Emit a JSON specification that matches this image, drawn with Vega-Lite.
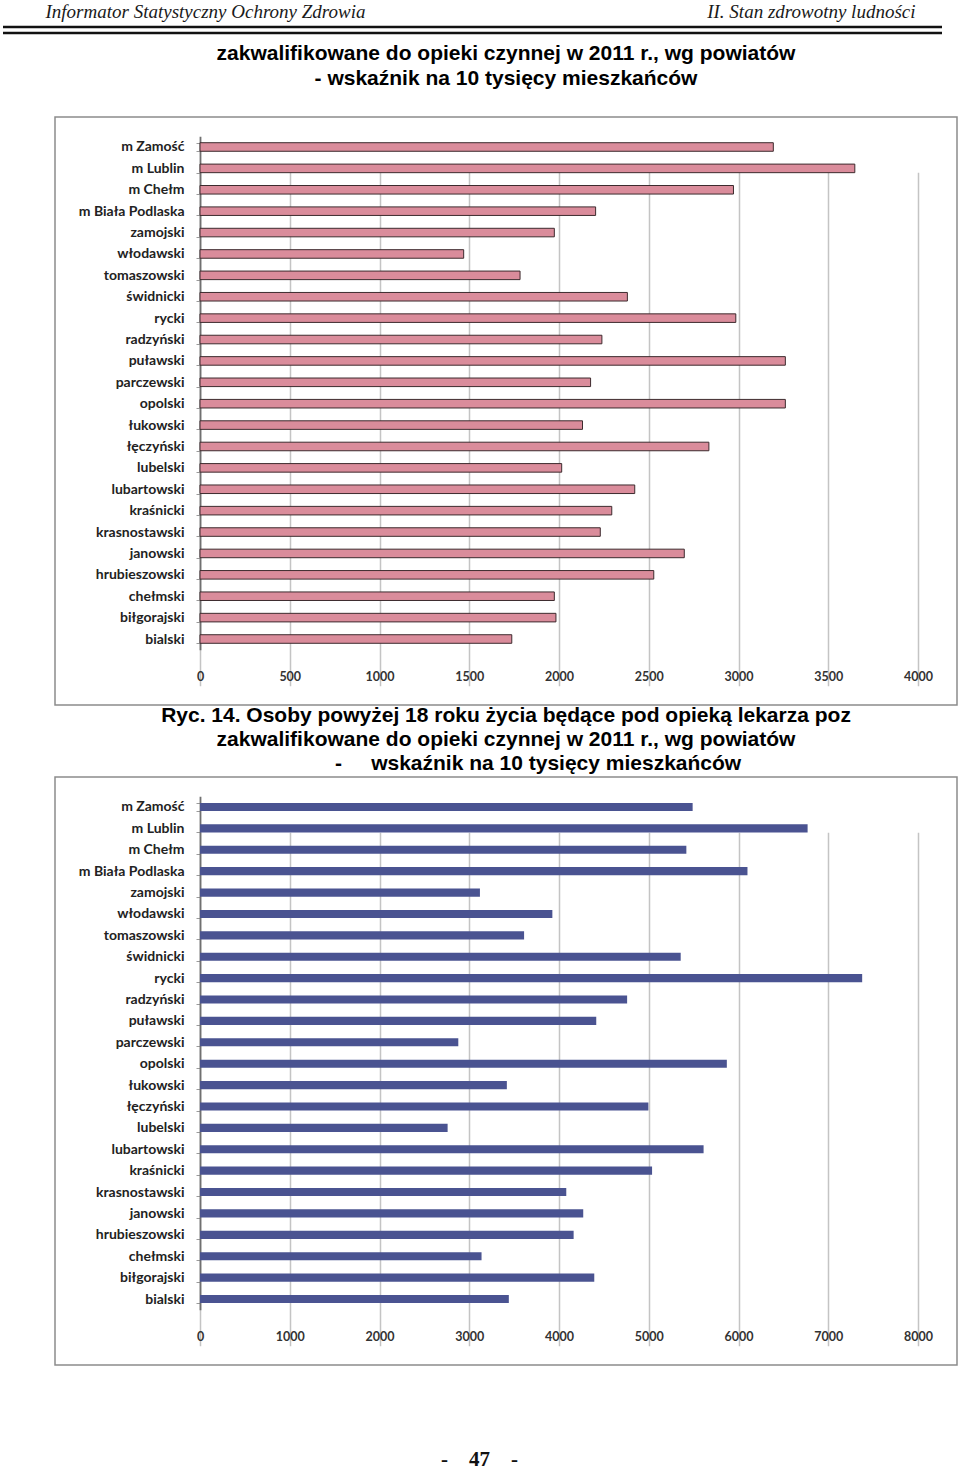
{
  "$schema": "https://vega.github.io/schema/vega-lite/v6.json",
  "padding": {"left": 1, "top": 2, "right": 0, "bottom": 0},
  "background": "white",
  "bounds": "flush",
  "spacing": 72,
  "config": {"font": "Liberation Sans", "view": {"stroke": null}},
  "datasets": {
    "wyk13": [
      {"powiat": "m Zamość", "wskaznik": 3194},
      {"powiat": "m Lublin", "wskaznik": 3648},
      {"powiat": "m Chełm", "wskaznik": 2972},
      {"powiat": "m Biała Podlaska", "wskaznik": 2204},
      {"powiat": "zamojski", "wskaznik": 1974},
      {"powiat": "włodawski", "wskaznik": 1469},
      {"powiat": "tomaszowski", "wskaznik": 1783},
      {"powiat": "świdnicki", "wskaznik": 2381},
      {"powiat": "rycki", "wskaznik": 2985},
      {"powiat": "radzyński", "wskaznik": 2239},
      {"powiat": "puławski", "wskaznik": 3261},
      {"powiat": "parczewski", "wskaznik": 2176},
      {"powiat": "opolski", "wskaznik": 3261},
      {"powiat": "łukowski", "wskaznik": 2131},
      {"powiat": "łęczyński", "wskaznik": 2835},
      {"powiat": "lubelski", "wskaznik": 2015},
      {"powiat": "lubartowski", "wskaznik": 2422},
      {"powiat": "kraśnicki", "wskaznik": 2294},
      {"powiat": "krasnostawski", "wskaznik": 2230},
      {"powiat": "janowski", "wskaznik": 2698},
      {"powiat": "hrubieszowski", "wskaznik": 2528},
      {"powiat": "chełmski", "wskaznik": 1974},
      {"powiat": "biłgorajski", "wskaznik": 1983},
      {"powiat": "bialski", "wskaznik": 1737}
    ],
    "wyk14": [
      {"powiat": "m Zamość", "wskaznik": 5489},
      {"powiat": "m Lublin", "wskaznik": 6770},
      {"powiat": "m Chełm", "wskaznik": 5419},
      {"powiat": "m Biała Podlaska", "wskaznik": 6100},
      {"powiat": "zamojski", "wskaznik": 3119},
      {"powiat": "włodawski", "wskaznik": 3926},
      {"powiat": "tomaszowski", "wskaznik": 3611},
      {"powiat": "świdnicki", "wskaznik": 5356},
      {"powiat": "rycki", "wskaznik": 7378},
      {"powiat": "radzyński", "wskaznik": 4759},
      {"powiat": "puławski", "wskaznik": 4415},
      {"powiat": "parczewski", "wskaznik": 2878},
      {"powiat": "opolski", "wskaznik": 5870},
      {"powiat": "łukowski", "wskaznik": 3419},
      {"powiat": "łęczyński", "wskaznik": 4996},
      {"powiat": "lubelski", "wskaznik": 2759},
      {"powiat": "lubartowski", "wskaznik": 5611},
      {"powiat": "kraśnicki", "wskaznik": 5037},
      {"powiat": "krasnostawski", "wskaznik": 4081},
      {"powiat": "janowski", "wskaznik": 4270},
      {"powiat": "hrubieszowski", "wskaznik": 4163},
      {"powiat": "chełmski", "wskaznik": 3137},
      {"powiat": "biłgorajski", "wskaznik": 4393},
      {"powiat": "bialski", "wskaznik": 3441}
    ]
  },
  "vconcat": [
    {
      "width": 902,
      "height": 18,
      "data": {"values": [{"linia": "górna"}, {"linia": "dolna"}]},
      "mark": {"type": "rule", "color": "#111111", "strokeWidth": 2.5},
      "encoding": {
        "y": {
          "field": "linia", "type": "nominal", "sort": null,
          "scale": {"type": "point", "padding": 0, "range": [0, 6]},
          "axis": {
            "orient": "left", "domain": false, "ticks": false, "labels": false, "grid": false,
            "title": "Informator Statystyczny Ochrony Zdrowia",
            "titleAngle": 0, "titleX": -10, "titleY": -16, "titleAlign": "left", "titleBaseline": "middle",
            "titleFont": "Liberation Serif", "titleFontStyle": "italic", "titleFontWeight": "normal",
            "titleFontSize": 19, "titleColor": "#1a1a1a"
          }
        },
        "x": {
          "datum": 0, "type": "quantitative",
          "scale": {"domain": [0, 1], "range": [-52, 887]},
          "axis": {
            "orient": "top", "domain": false, "ticks": false, "labels": false, "grid": false,
            "title": "II. Stan zdrowotny ludności",
            "titleX": 860, "titleY": -16, "titleAlign": "right", "titleBaseline": "middle",
            "titleFont": "Liberation Serif", "titleFontStyle": "italic", "titleFontWeight": "normal",
            "titleFontSize": 19, "titleColor": "#1a1a1a"
          }
        },
        "x2": {"datum": 1}
      }
    },
    {
      "width": 902,
      "height": 588,
      "view": {"stroke": "#8c8c8c", "strokeWidth": 1.5},
      "title": {
        "text": ["zakwalifikowane do opieki czynnej w 2011 r., wg powiatów", "- wskaźnik na 10 tysięcy mieszkańców"],
        "anchor": "middle", "offset": 21, "font": "Liberation Sans", "fontSize": 21,
        "fontWeight": "bold", "lineHeight": 25, "color": "#000000"
      },
      "data": {"name": "wyk13"},
      "mark": {"type": "bar", "color": "#da8c9b", "stroke": "#3d2b2e", "strokeWidth": 1},
      "encoding": {
        "y": {
          "field": "powiat", "type": "nominal", "sort": null,
          "scale": {"range": [19.3, 532.7], "paddingInner": 0.6, "paddingOuter": 0.3},
          "axis": {
            "orient": "left", "offset": -145, "title": null, "grid": false,
            "domain": true, "domainColor": "#707070", "domainWidth": 1.8,
            "ticks": true, "tickBand": "extent", "tickSize": 4, "tickColor": "#9a9a9a",
            "labelPadding": 12, "labelFont": "Lato", "labelFontWeight": "bold",
            "labelFontSize": 14, "labelColor": "#222222"
          }
        },
        "x": {
          "field": "wskaznik", "type": "quantitative",
          "scale": {"domain": [0, 4000], "range": [145, 863], "nice": false},
          "axis": {
            "orient": "bottom", "offset": -40, "title": null, "domain": false, "ticks": false,
            "labelPadding": 5, "values": [0, 500, 1000, 1500, 2000, 2500, 3000, 3500, 4000],
            "format": "d", "labelFlush": false,
            "grid": true, "gridColor": "#c4c4c4", "gridWidth": 1.5,
            "labelFont": "Lato", "labelFontSize": 12.5, "labelFontWeight": "bold", "labelColor": "#333333"
          }
        }
      }
    },
    {
      "width": 902,
      "height": 588,
      "view": {"stroke": "#8c8c8c", "strokeWidth": 1.5},
      "title": {
        "text": [
          "Ryc. 14. Osoby powyżej 18 roku życia będące pod opieką lekarza poz",
          "zakwalifikowane do opieki czynnej w 2011 r., wg powiatów",
          "\u200b\u00a0\u00a0\u00a0\u00a0\u00a0\u00a0\u00a0\u00a0\u00a0\u00a0\u00a0-\u00a0\u00a0\u00a0\u00a0\u00a0wskaźnik na 10 tysięcy mieszkańców"
        ],
        "anchor": "middle", "offset": -4, "font": "Liberation Sans", "fontSize": 21,
        "fontWeight": "bold", "lineHeight": 24, "color": "#000000"
      },
      "data": {"name": "wyk14"},
      "mark": {"type": "bar", "color": "#4a5391"},
      "encoding": {
        "y": {
          "field": "powiat", "type": "nominal", "sort": null,
          "scale": {"range": [19.3, 532.7], "paddingInner": 0.62, "paddingOuter": 0.31},
          "axis": {
            "orient": "left", "offset": -145, "title": null, "grid": false,
            "domain": true, "domainColor": "#707070", "domainWidth": 1.8,
            "ticks": true, "tickBand": "extent", "tickSize": 4, "tickColor": "#9a9a9a",
            "labelPadding": 12, "labelFont": "Lato", "labelFontWeight": "bold",
            "labelFontSize": 14, "labelColor": "#222222"
          }
        },
        "x": {
          "field": "wskaznik", "type": "quantitative",
          "scale": {"domain": [0, 8000], "range": [145, 863], "nice": false},
          "axis": {
            "orient": "bottom", "offset": -40, "domain": false, "ticks": false,
            "labelPadding": 5, "values": [0, 1000, 2000, 3000, 4000, 5000, 6000, 7000, 8000],
            "format": "d", "labelFlush": false,
            "grid": true, "gridColor": "#c4c4c4", "gridWidth": 1.5,
            "labelFont": "Lato", "labelFontSize": 12.5, "labelFontWeight": "bold", "labelColor": "#333333",
            "title": "-\u00a0\u00a0\u00a0\u00a047\u00a0\u00a0\u00a0\u00a0-",
            "titleX": 424, "titleY": 134, "titleAlign": "center", "titleBaseline": "middle",
            "titleFont": "Liberation Serif", "titleFontWeight": "bold", "titleFontSize": 21, "titleColor": "#111111"
          }
        }
      }
    }
  ]
}
